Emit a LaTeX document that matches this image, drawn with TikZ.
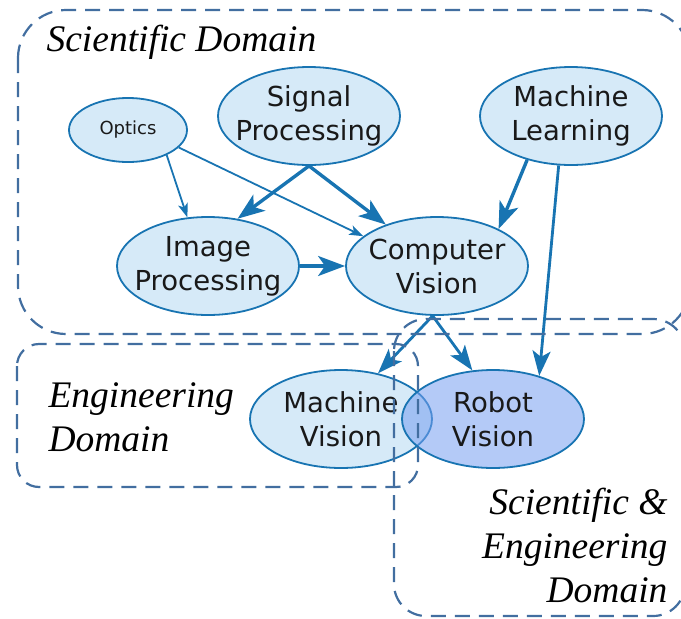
\documentclass[tikz,border=0pt]{standalone}
\usepackage{fontspec}
\setsansfont{DejaVu Sans}
\newfontfamily\domainfont{Liberation Serif}
\usetikzlibrary{shapes.geometric,arrows.meta}
\definecolor{edgeblue}{RGB}{24,116,178}
\definecolor{nodefill}{RGB}{214,234,248}
\definecolor{robotfill}{RGB}{118,158,240}
\definecolor{boxline}{RGB}{66,110,160}
\begin{document}
\begin{tikzpicture}[x=1pt,y=-1pt,
  topic/.style={ellipse, draw=edgeblue, line width=1.8pt, fill=nodefill,
    minimum width=182pt, minimum height=98pt, inner sep=0pt},
  caption/.style={font=\sffamily\fontsize{27.5}{34}\selectfont, align=center, text=black!90},
  smallcaption/.style={font=\sffamily\fontsize{18}{22}\selectfont, text=black!90},
  link/.style={draw=edgeblue},
  thinlink/.style={link, line width=1.8pt, -{Stealth[length=14pt,width=10pt,inset=3.5pt]}},
  midlink/.style={link, line width=2.8pt, -{Stealth[length=25pt,width=18pt,inset=6pt]}},
  boldlink/.style={link, line width=3.4pt, -{Stealth[length=27pt,width=20pt,inset=7pt]}},
  domainbox/.style={draw=boxline, line width=2.2pt, dash pattern=on 15pt off 9pt},
  domaintext/.style={font=\domainfont\itshape\fontsize{37.5}{44}\selectfont, text=black}
]
\useasboundingbox (0,0) rectangle (681,619);

% topics of the scientific domain
\node[topic, minimum width=118pt, minimum height=64pt,
  label={[smallcaption]center:Optics}] (optics) at (128,130) {};
\node[topic, label={[caption]center:{Signal\\Processing}}] (sp) at (309,116) {};
\node[topic, label={[caption]center:{Machine\\Learning}}] (ml) at (571,116) {};
\node[topic, label={[caption]center:{Image\\Processing}}] (ip) at (208,266) {};
\node[topic, label={[caption]center:{Computer\\Vision}}] (cv) at (437,266) {};

% application topics
\node[topic, label={[caption]center:{Machine\\Vision}}] (mv) at (341,419) {};
\node[topic, fill=robotfill, fill opacity=0.55, text opacity=1,
  label={[caption]center:{Robot\\Vision}}] (rv) at (493,419) {};

% dependencies
\draw[thinlink] (optics.-33) -- (ip.113);
\draw[thinlink] (optics.-19) -- (cv.158);
\draw[boldlink] (sp.south) -- (ip.58);
\draw[boldlink] (sp.south) -- (cv.141);
\draw[boldlink] (ml.225) -- (cv.31);
\draw[midlink] (ml.256) -- (rv.43);
\draw[boldlink] (ip.east) -- (cv.west);
\draw[midlink] (cv.265) -- (mv.51);
\draw[midlink] (cv.265) -- (rv.113);

% domains
\draw[domainbox, rounded corners=48pt] (18,10) rectangle (690,334);
\draw[domainbox, rounded corners=22pt] (17,344) rectangle (418,487);
\draw[domainbox, rounded corners=32pt] (394,319) rectangle (685,616);

\node[domaintext, anchor=west] (sd) at (43,42) {Scientific Domain};
\node[domaintext, anchor=west, align=left] (ed) at (45,417) {Engineering\\Domain};
\node[domaintext, anchor=east, align=right] (sed) at (671,545)
  {Scientific \&\hspace{14pt}\\Engineering\hspace{14pt}\\Domain};
\end{tikzpicture}
\end{document}
